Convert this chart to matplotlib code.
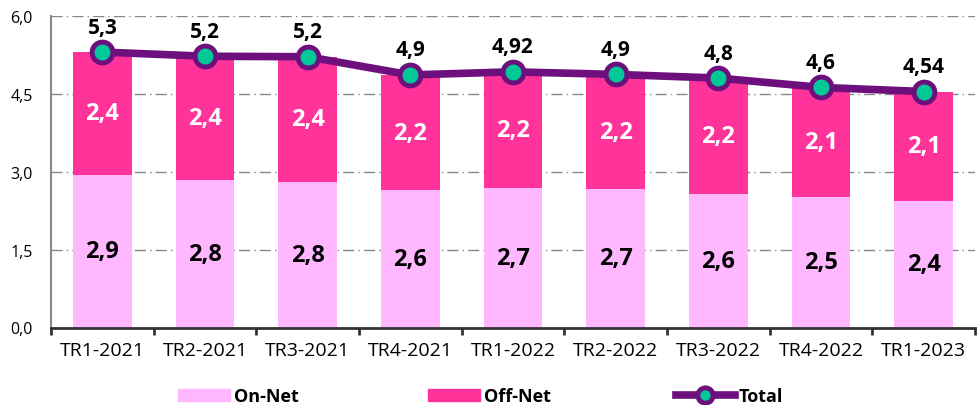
import matplotlib
matplotlib.use("Agg")
import matplotlib.pyplot as plt
from matplotlib.ticker import FixedLocator
from matplotlib.lines import Line2D
from matplotlib.patches import Patch

categories = ["TR1-2021", "TR2-2021", "TR3-2021", "TR4-2021", "TR1-2022",
              "TR2-2022", "TR3-2022", "TR4-2022", "TR1-2023"]
on_net = [2.94, 2.84, 2.80, 2.64, 2.68, 2.66, 2.56, 2.51, 2.44]
off_net = [2.36, 2.38, 2.41, 2.22, 2.24, 2.21, 2.24, 2.11, 2.10]
total = [5.30, 5.22, 5.21, 4.86, 4.92, 4.87, 4.80, 4.62, 4.54]
on_labels = ["2,9", "2,8", "2,8", "2,6", "2,7", "2,7", "2,6", "2,5", "2,4"]
off_labels = ["2,4", "2,4", "2,4", "2,2", "2,2", "2,2", "2,2", "2,1", "2,1"]
total_labels = ["5,3", "5,2", "5,2", "4,9", "4,92", "4,9", "4,8", "4,6", "4,54"]
yticks = [0.0, 1.5, 3.0, 4.5, 6.0]
ytick_labels = ["0,0", "1,5", "3,0", "4,5", "6,0"]
series_names = ["On-Net", "Off-Net", "Total"]

plt.rcParams['font.family'] = ['Open Sans', 'DejaVu Sans']

c_on = "#FFB8FF"
c_off = "#FF3399"
c_line = "#6E0F7E"
c_mark = "#00C896"

W, H = 979, 406
fig = plt.figure(figsize=(W / 100, H / 100), dpi=100)
ax = fig.add_axes([51 / W, 1 - 328.5 / H, (975 - 51) / W, (328.5 - 16.7) / H])

x = list(range(len(categories)))
w = 0.57
ax.bar(x, on_net, w, color=c_on, zorder=2)
ax.bar(x, off_net, w, bottom=on_net, color=c_off, zorder=2)
ax.plot(x, total, color=c_line, lw=5.5, marker="o", ms=15, mfc=c_mark,
        mec=c_line, mew=3.5, zorder=4, solid_joinstyle="round")

for i in x:
    ax.text(i, on_net[i] / 2, on_labels[i], ha="center", va="center",
            fontsize=17, fontweight="bold", color="black", zorder=5)
    ax.text(i, on_net[i] + off_net[i] / 2, off_labels[i], ha="center",
            va="center", fontsize=17, fontweight="bold", color="white", zorder=5)
    ax.annotate(total_labels[i], (i, total[i]), xytext=(0, 14),
                textcoords="offset points", ha="center", va="baseline",
                fontsize=15, fontweight="bold", color="black", zorder=5)

ax.set_xlim(-0.5, len(categories) - 0.5)
ax.set_ylim(0, 6.0)
ax.set_yticks(yticks)
ax.set_yticklabels(ytick_labels, fontsize=11.5)
ax.set_xticks(x)
ax.set_xticklabels(categories, fontsize=14)
ax.tick_params(axis="x", which="major", length=0, pad=10)
ax.xaxis.set_minor_locator(FixedLocator([i - 0.5 for i in range(len(categories) + 1)]))
ax.tick_params(axis="x", which="minor", length=5, width=2, color="#333333")
ax.tick_params(axis="y", length=0, pad=13)

ax.grid(axis="y", color="#888888", linestyle=(0, (8, 3, 1, 3)), lw=1, zorder=0)
for s in ["top", "right"]:
    ax.spines[s].set_visible(False)
ax.spines["left"].set_color("#888888")
ax.spines["left"].set_linewidth(1.5)
ax.spines["bottom"].set_color("#333333")
ax.spines["bottom"].set_linewidth(2)

handles = [Patch(color=c_on),
           Patch(color=c_off),
           Line2D([0], [0], color=c_line, lw=5.5, marker="o", ms=11, mfc=c_mark,
                  mec=c_line, mew=3.5)]
lefts = [178, 428, 676]
hlens = [52, 52, 59]
fs = 13
fpx = fs * 100 / 72
for h, name, lx, hl in zip(handles, series_names, lefts, hlens):
    leg = fig.legend(handles=[h], labels=[name], loc="center left",
                     bbox_to_anchor=(lx / W, 1 - 397 / H), frameon=False,
                     fontsize=fs, borderpad=0, borderaxespad=0,
                     handlelength=hl / fpx, handleheight=12 / fpx,
                     handletextpad=4 / fpx)
    for t in leg.get_texts():
        t.set_fontweight("bold")

fig.savefig("out.png", dpi=100)
